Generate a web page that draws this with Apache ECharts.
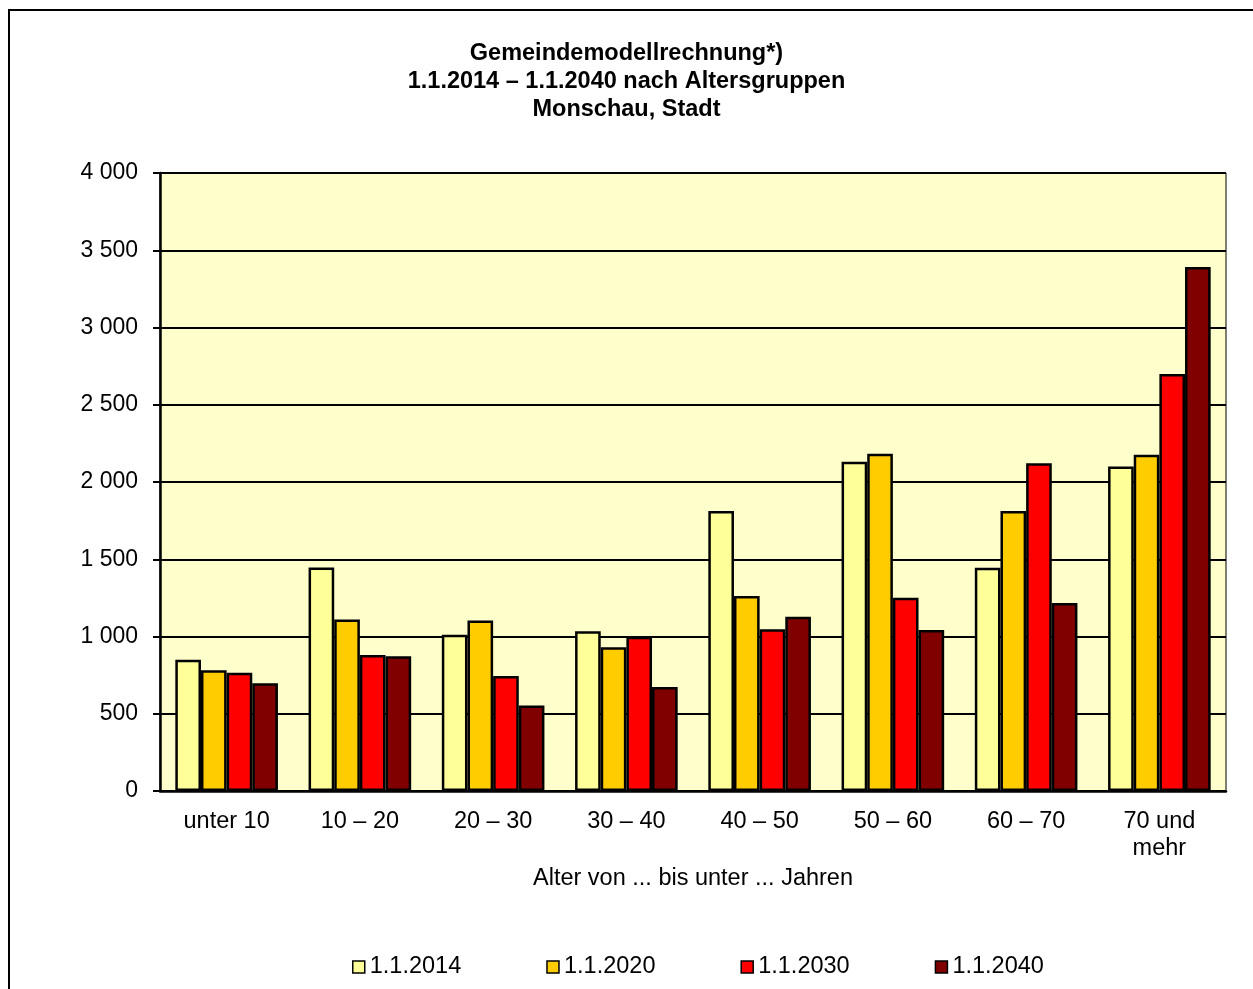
<!DOCTYPE html>
<html>
<head>
<meta charset="utf-8">
<script src="https://cdn.jsdelivr.net/npm/echarts@6/dist/echarts.min.js"></script>
<style>
html,body{margin:0;padding:0;background:#fff;}
#c{width:1253px;height:989px;}
</style>
</head>
<body>
<div id="c"></div>
<script>
const categories = ['unter 10', '10 – 20', '20 – 30', '30 – 40', '40 – 50', '50 – 60', '60 – 70', '70 und\nmehr'];
const seriesNames = ['1.1.2014', '1.1.2020', '1.1.2030', '1.1.2040'];
const values2014 = [850, 1446, 1011, 1034, 1812, 2131, 1445, 2101];
const values2020 = [781, 1110, 1104, 931, 1262, 2183, 1812, 2177];
const values2030 = [766, 881, 745, 998, 1047, 1251, 2121, 2699];
const values2040 = [697, 872, 554, 673, 1128, 1042, 1217, 3392];
const colors = ['#FFFF99', '#FFCC00', '#FF0000', '#800000'];
const titleLines = ['Gemeindemodellrechnung*)', '1.1.2014 – 1.1.2040 nach Altersgruppen', 'Monschau, Stadt'];
const xAxisTitle = 'Alter von ... bis unter ... Jahren';

const allValues = [values2014, values2020, values2030, values2040];
const font = '"Liberation Sans", Arial, sans-serif';

const chart = echarts.init(document.getElementById('c'), null, {renderer: 'canvas'});
chart.setOption({
  animation: false,
  backgroundColor: '#ffffff',
  graphic: [{
    type: 'rect',
    shape: {x: 9, y: 10, width: 1262, height: 1000},
    style: {fill: 'none', stroke: '#000', lineWidth: 2},
    silent: true,
    z: 100
  }],
  title: {
    text: titleLines.join('\n'),
    left: 'center',
    top: 40,
    padding: 0,
    textStyle: {fontFamily: font, fontWeight: 'bold', fontSize: 23.5, lineHeight: 28, color: '#000'}
  },
  legend: {
    data: seriesNames,
    left: 352,
    top: 955,
    padding: 0,
    itemWidth: 12,
    itemHeight: 12,
    itemGap: 85,
    icon: 'rect',
    textStyle: {fontFamily: font, fontSize: 23.5, color: '#000'},
    itemStyle: {borderColor: '#000', borderWidth: 1.5}
  },
  grid: {
    left: 160, right: 27, top: 173, bottom: 198,
    show: true,
    backgroundColor: '#FFFFCC',
    borderColor: '#000',
    borderWidth: 1,
    containLabel: false
  },
  xAxis: {
    type: 'category',
    data: categories,
    name: xAxisTitle,
    nameLocation: 'middle',
    nameGap: 75,
    nameTextStyle: {fontFamily: font, fontSize: 23.5, color: '#000'},
    axisLine: {lineStyle: {color: '#000', width: 2.5}},
    axisTick: {show: false},
    axisLabel: {fontFamily: font, fontSize: 23.5, color: '#000', margin: 17, lineHeight: 27, interval: 0}
  },
  yAxis: {
    type: 'value',
    min: 0, max: 4000, interval: 500,
    axisLine: {show: true, lineStyle: {color: '#000', width: 2.5}},
    axisTick: {show: true, length: 7, lineStyle: {color: '#000', width: 2}},
    splitLine: {lineStyle: {color: '#000', width: 2}},
    axisLabel: {
      fontFamily: font, fontSize: 23, color: '#000', margin: 22,
      formatter: v => String(v).replace(/\B(?=(\d{3})+(?!\d))/g, ' ')
    }
  },
  series: seriesNames.map((n, i) => ({
    name: n,
    type: 'bar',
    data: allValues[i],
    barGap: '0%',
    barCategoryGap: '23%',
    itemStyle: {color: colors[i], borderColor: '#000', borderWidth: 2.5}
  }))
});
</script>
</body>
</html>
